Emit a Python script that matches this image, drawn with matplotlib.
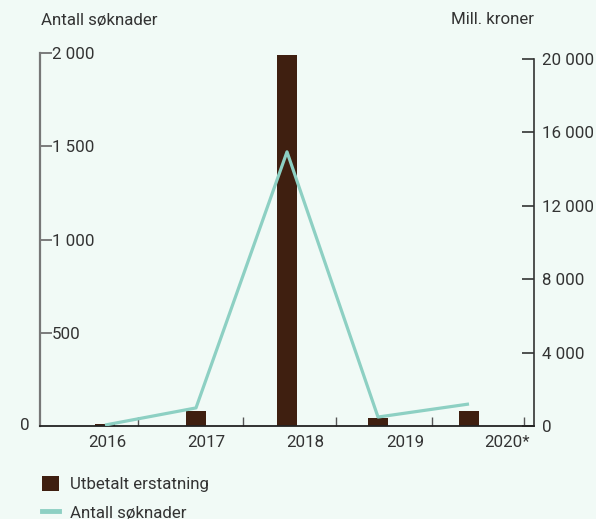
import matplotlib
matplotlib.use('Agg')
import matplotlib.pyplot as plt
from matplotlib.lines import Line2D
from matplotlib.patches import Patch

years = ['2016', '2017', '2018', '2019', '2020*']
utbetalt = [100, 820, 20200, 440, 820]          # mill. kroner (right axis)
soknader = [5, 97, 1470, 48, 118]               # antall (left axis)

left_ticks = [500, 1000, 1500, 2000]
right_ticks = [0, 4000, 8000, 12000, 16000, 20000]

bg = '#f1faf6'
brown = '#3f1f10'
mint = '#8dd0c3'
txt = '#333333'

plt.rcParams['font.family'] = ['Roboto', 'DejaVu Sans']
plt.rcParams['font.size'] = 12.2

def fmt(v):
    return f'{v:,}'.replace(',', ' ')

fig = plt.figure(figsize=(5.96, 5.19), dpi=100, facecolor=bg)
ax = fig.add_axes([40 / 596, 1 - 426 / 519, 494 / 596, 373 / 519])
ax.set_facecolor(bg)
ax2 = ax.twinx()

x = list(range(len(years)))
ax2.bar(x, utbetalt, width=0.22, color=brown, zorder=2)
ax.plot(x, soknader, color=mint, lw=2.3, zorder=3, solid_capstyle='butt')
ax.set_zorder(ax2.get_zorder() + 1)
ax.patch.set_visible(False)
ax2.patch.set_visible(True)
ax2.patch.set_facecolor(bg)
ax.set_xlim(-0.714, 4.714)
ax.set_ylim(0, 2000)
ax2.set_ylim(0, 20000 * 373 / 367)

# x axis: marks between the years, labels on minor ticks
ax.set_xticks([0.36, 1.52, 2.54, 3.59, 4.6])
ax.set_xticklabels([])
ax.set_xticks([0.03, 1.11, 2.2, 3.3, 4.42], minor=True)
ax.set_xticklabels(years, minor=True, color=txt)
ax.tick_params(axis='x', which='major', direction='in', length=6.5, width=1, color='#555555')
ax.tick_params(axis='x', which='minor', length=0, pad=6.5)

# left axis: labels inside
ax.set_yticks(left_ticks)
ax.set_yticklabels([fmt(v) for v in left_ticks], color=txt, ha='left')
ax.tick_params(axis='y', direction='in', length=8.6, width=1.2, color='#666666', pad=-8.6)
ax.annotate('0', xy=(0, 0), xycoords=('axes fraction', 'data'), xytext=(-10, 1),
            textcoords='offset pixels', ha='right', va='center', color=txt)

ax2.set_yticks(right_ticks)
ax2.set_yticklabels([fmt(v) for v in right_ticks], color=txt)
ax2.tick_params(axis='y', direction='in', length=8.6, width=1.2, color='#333333', pad=5.5)

for a in (ax, ax2):
    a.spines['top'].set_visible(False)
ax.spines['left'].set_color('#777777')
ax.spines['left'].set_linewidth(1.6)
ax.spines['bottom'].set_color('#222222')
ax.spines['bottom'].set_linewidth(1.3)
ax.spines['right'].set_visible(False)
ax2.spines['left'].set_visible(False)
ax2.spines['bottom'].set_visible(False)
ax2.spines['right'].set_color('#333333')
ax2.spines['right'].set_linewidth(1.2)
ax2.spines['right'].set_bounds(0, 20000)

fig.text(41 / 596, 1 - 20 / 519, 'Antall søknader', ha='left', va='center', color=txt)
fig.text(534 / 596, 1 - 20 / 519, 'Mill. kroner', ha='right', va='center', color=txt)

handles = [Patch(facecolor=brown, edgecolor='none'),
           Line2D([], [], color=mint, lw=3.5)]
fig.legend(handles, ['Utbetalt erstatning', 'Antall søknader'],
           loc='upper left', bbox_to_anchor=(42 / 596, 1 - 476 / 519),
           frameon=False, borderpad=0, borderaxespad=0,
           handlelength=1.0, handleheight=1.0, handletextpad=0.65,
           labelspacing=0.72, labelcolor=txt)

fig.savefig('out.png', dpi=100, facecolor=bg)
